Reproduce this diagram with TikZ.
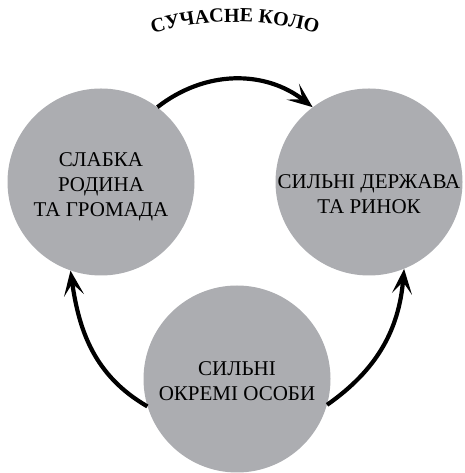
\documentclass[tikz,border=0pt]{standalone}
\usepackage{fontspec}
\setmainfont{Liberation Serif}
\usepackage{tikz}
\usetikzlibrary{
	positioning,
	arrows.meta,
	decorations.text
}
\definecolor{circgray}{RGB}{172,173,177}
\tikzset{
	x=1pt, y=1pt,
	node distance=268pt,
	circ/.style={
		circle, fill=circgray, minimum size=187pt, inner sep=0pt
	},
	circtext/.style={
		align=center, inner sep=0pt, font=\fontsize{21}{25}\selectfont
	},
	every edge/.append style={
		line width=4.2pt,
		-{Stealth[length=25pt,width=20pt,inset=12pt]}
	}
}

\begin{document}
\begin{tikzpicture}
	\useasboundingbox (0,0) rectangle (464,473);
	\draw
		node [circ,label={[circtext,yshift=-5pt]center:СЛАБКА\\РОДИНА\\ТА ГРОМАДА}]
			(lft) at (101,291) {}
		node [circ,right of=lft,label={[circtext,yshift=-12pt]center:СИЛЬНІ ДЕРЖАВА\\ТА РИНОК}]
			(rgt) {}
		node [circ,label={[circtext,yshift=-2pt]center:СИЛЬНІ\\ОКРЕМІ ОСОБИ}]
			(btm) at (237,94) {}

		(lft.53)  edge[out=38,in=142]  (rgt.127)
		(btm.197) edge[out=150,in=-82] (lft.-109)
		(btm.-16) edge[out=35,in=-95]  (rgt.-68)
	;
	\coordinate (arcc) at (235,155);
	\path[decorate,decoration={text along path,text align=center,
			text={|\fontsize{20}{20}\selectfont\bfseries|СУЧАСНЕ КОЛО}}]
		(arcc) ++(112:296) arc[start angle=112,end angle=68,radius=296];
\end{tikzpicture}
\end{document}
